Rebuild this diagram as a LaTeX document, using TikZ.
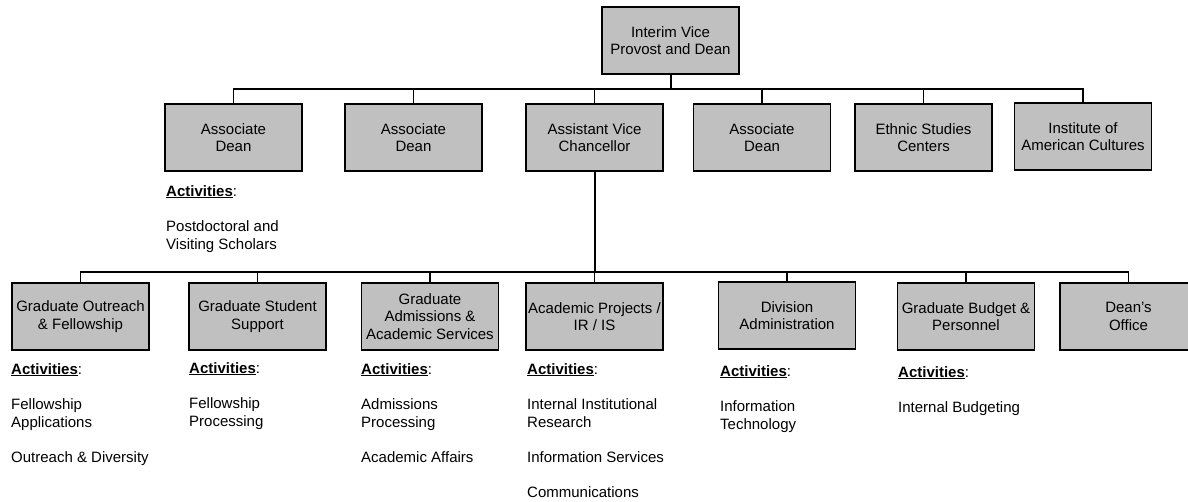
\documentclass[tikz,border=0pt]{standalone}
\usepackage{fontspec}
\setmainfont{Liberation Sans}
\definecolor{boxgray}{RGB}{192,192,192}
\newcommand\chartfont{\fontsize{15}{17.7}\selectfont}
\newcommand\actlist[1]{\begin{tabular}[t]{@{}l@{}}#1\end{tabular}}
\newcommand\acthead{\underline{\textbf{Activities}}:}
\begin{document}
\begin{tikzpicture}[x=1pt,y=-1pt,
  box/.style={draw=black,line width=1.3pt,fill=boxgray,minimum width=137pt,minimum height=67pt,inner sep=0pt,align=center,font=\chartfont},
  link/.style={line width=1.1pt,draw=black},
  trunk/.style={line width=2pt,draw=black},
  act/.style={anchor=base west,inner sep=0pt,font=\chartfont}]
\useasboundingbox (0,0) rectangle (1188,501);
% top
\node[box] (top) at (670.5,40.5) {Interim Vice\\Provost and Dean};
% row 2
\node[box] (ad1) at (233.5,137.5) {Associate\\Dean};
\node[box] (ad2) at (413.5,137.5) {Associate\\Dean};
\node[box] (avc) at (594.5,137.5) {Assistant Vice\\Chancellor};
\node[box] (ad3) at (762,137.5) {Associate\\Dean};
\node[box] (esc) at (923.5,137.5) {Ethnic Studies\\Centers};
\node[box] (iac) at (1083,136.5) {Institute of\\American Cultures};
% row 3
\node[box] (gof) at (80.5,316.5) {Graduate Outreach\\\& Fellowship};
\node[box] (gss) at (257.5,316.5) {Graduate Student\\Support};
\node[box] (gaas) at (430,316.5) {Graduate\\Admissions \&\\Academic Services};
\node[box] (apis) at (594.5,316.5) {Academic Projects /\\IR / IS};
\node[box] (div) at (787,315.5) {Division\\Administration};
\node[box] (gbp) at (966,316.5) {Graduate Budget \&\\Personnel};
\node[box] (deo) at (1128.5,316.5) {Dean’s\\Office};
% connectors row 2
\coordinate (b1) at (670.5,89);
\draw[trunk] (top.south) -- (b1);
\foreach \n in {ad1,ad2,avc,ad3,esc,iac} \draw[link] (b1) -| (\n.north);
% connectors row 3
\coordinate (b2) at (594.5,272);
\draw[trunk] (avc.south) -- (b2);
\foreach \n in {gof,gss,gaas,apis,div,gbp,deo} \draw[link] (b2) -| (\n.north);
\draw[trunk] (b2) -- (b2 -| gss.north);
\draw[trunk] (b2) -- (b2 -| gbp.north);
% activities
\node[act] (act1) at (166,196) {\actlist{\acthead\\ \\Postdoctoral and\\Visiting Scholars}};
\node[act] (act2) at (11,374) {\actlist{\acthead\\ \\Fellowship\\Applications\\ \\Outreach \& Diversity}};
\node[act] (act3) at (189,373) {\actlist{\acthead\\ \\Fellowship\\Processing}};
\node[act] (act4) at (361,374) {\actlist{\acthead\\ \\Admissions\\Processing\\ \\Academic Affairs}};
\node[act] (act5) at (527,374) {\actlist{\acthead\\ \\Internal Institutional\\Research\\ \\Information Services\\ \\Communications}};
\node[act] (act6) at (720,376) {\actlist{\acthead\\ \\Information\\Technology}};
\node[act] (act7) at (898,377) {\actlist{\acthead\\ \\Internal Budgeting}};
\end{tikzpicture}
\end{document}
